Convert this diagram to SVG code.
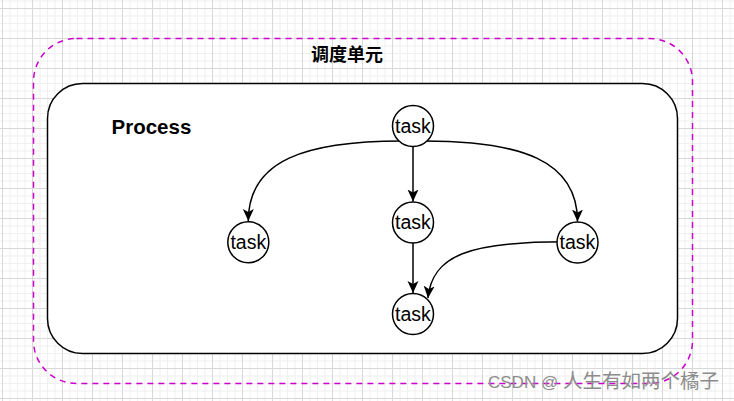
<svg xmlns="http://www.w3.org/2000/svg" width="734" height="401" viewBox="0 0 734 401">
<defs>
<style>
.node circle{fill:#fff;stroke:#000;stroke-width:1.5}
.node text{font-family:"Liberation Sans",Arial,sans-serif;font-size:19.5px;fill:#000;text-anchor:middle}
.edge{fill:none;stroke:#000;stroke-width:1.5;marker-end:url(#arrow)}
</style>
<pattern id="grid" patternUnits="userSpaceOnUse" x="2" y="8" width="30" height="30">
<rect width="30" height="30" fill="#fff"/>
<rect x="7.5" y="0" width="1" height="30" fill="#f0f0f0"/>
<rect x="15" y="0" width="1" height="30" fill="#f0f0f0"/>
<rect x="22.5" y="0" width="1" height="30" fill="#f0f0f0"/>
<rect x="0" y="7.5" width="30" height="1" fill="#f0f0f0"/>
<rect x="0" y="15" width="30" height="1" fill="#f0f0f0"/>
<rect x="0" y="22.5" width="30" height="1" fill="#f0f0f0"/>
<rect x="0" y="0" width="1" height="30" fill="#d8d8d8"/>
<rect x="0" y="0" width="30" height="1" fill="#d8d8d8"/>
</pattern>
<marker id="arrow" markerUnits="userSpaceOnUse" viewBox="0 0 12 12" markerWidth="12" markerHeight="12" refX="12" refY="6" orient="auto">
<path d="M0,0.5 L12,6 L0,11.5 L3,6 Z" fill="#000"/>
</marker>
</defs>
<rect width="734" height="401" fill="url(#grid)"/>
<g id="scheduling-unit">
<rect x="33.5" y="38.5" width="659" height="345" rx="43" ry="43" fill="none" stroke="#cc00cc" stroke-width="1.5" stroke-dasharray="6 5"/>
<text x="347" y="61" font-family="'Noto Sans CJK SC',sans-serif" font-size="18" font-weight="bold" text-anchor="middle" fill="#000">调度单元</text>
</g>
<g id="process">
<rect x="47.5" y="83.5" width="630" height="270" rx="35" ry="35" fill="#fff" stroke="#000" stroke-width="1.5"/>
<text x="111.5" y="134" font-family="'Liberation Sans',Arial,sans-serif" font-size="20.5" font-weight="bold" fill="#000">Process</text>
</g>
<g id="connectors">
<path class="edge" d="M402 141 C306 141 248.3 160 248.3 221"/>
<path class="edge" d="M424 141 C520 141 577.5 160 577.5 221.5"/>
<path class="edge" d="M413 140 L413 201.5"/>
<path class="edge" d="M413 236 L413 293"/>
<path class="edge" d="M565 241.7 C470 241.7 432 255 428 298"/>
</g>
<g id="task-top" class="node"><circle cx="413" cy="126" r="20.5"/><text x="413" y="132.5">task</text></g>
<g id="task-left" class="node"><circle cx="248.3" cy="242.3" r="20.5"/><text x="248.3" y="248.8">task</text></g>
<g id="task-middle" class="node"><circle cx="413" cy="222.5" r="20.5"/><text x="413" y="229">task</text></g>
<g id="task-right" class="node"><circle cx="577.5" cy="242.5" r="20.5"/><text x="577.5" y="249">task</text></g>
<g id="task-bottom" class="node"><circle cx="413" cy="314" r="20.5"/><text x="413" y="320.5">task</text></g>
<g id="watermark" fill="#8c8c8c">
<text x="488" y="388" font-family="'Liberation Sans',Arial,sans-serif" font-size="17">CSDN @</text>
<text x="563" y="388" font-family="'Noto Sans CJK SC',sans-serif" font-size="19.5" textLength="156" lengthAdjust="spacing">人生有如两个橘子</text>
</g>
</svg>
